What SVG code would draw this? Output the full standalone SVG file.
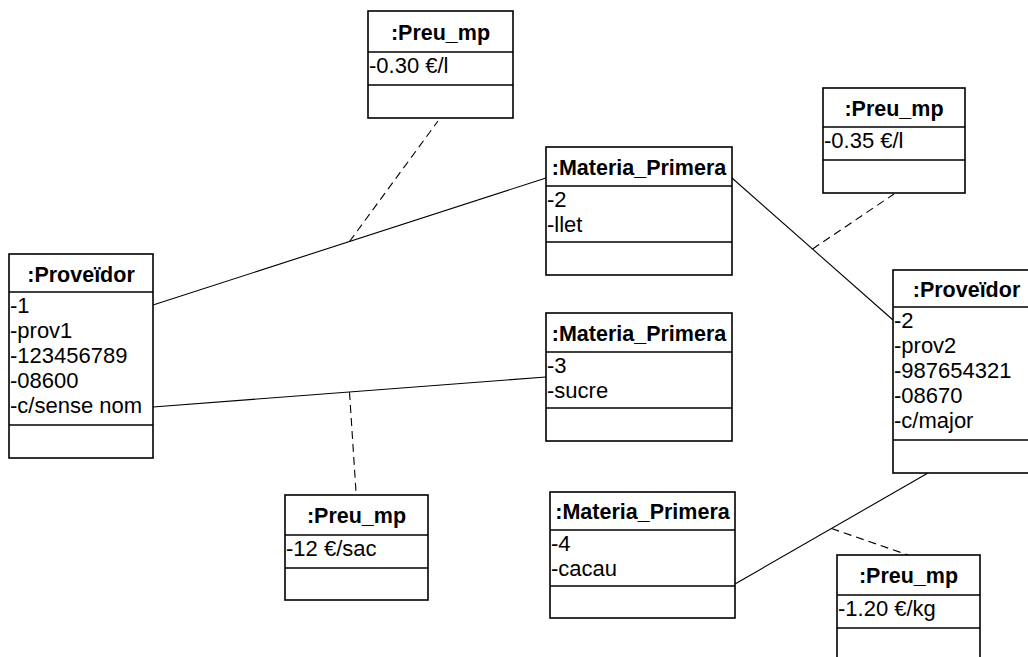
<svg xmlns="http://www.w3.org/2000/svg" width="1028" height="657" viewBox="0 0 1028 657">
<style>
.box{fill:#ffffff;stroke:#000000;stroke-width:1.6}
.div{stroke:#000000;stroke-width:1.6}
.hd{font-family:"Liberation Sans",Arial,sans-serif;font-size:21.5px;font-weight:bold;text-anchor:middle;fill:#000}
.at{font-family:"Liberation Sans",Arial,sans-serif;font-size:22px;fill:#000}
.ln{stroke:#000;stroke-width:1.1;fill:none}
.ds{stroke:#000;stroke-width:1.1;fill:none;stroke-dasharray:8,5}
</style>
<rect width="1028" height="657" fill="#ffffff"/>
<g id="connectors">
<line class="ln" x1="153" y1="305" x2="546" y2="178"/>
<line class="ds" x1="349.5" y1="241.5" x2="438" y2="121"/>
<line class="ln" x1="153" y1="407" x2="546" y2="377"/>
<line class="ds" x1="349.5" y1="392" x2="356" y2="492"/>
<line class="ln" x1="732" y1="178" x2="893" y2="320"/>
<line class="ds" x1="812.5" y1="249" x2="894" y2="194"/>
<line class="ln" x1="735" y1="584" x2="928" y2="473"/>
<line class="ds" x1="831.5" y1="528.5" x2="908" y2="555"/>
</g>
<g id="preu1">
<rect class="box" x="368" y="11" width="145" height="107"/>
<line class="div" x1="368" y1="52" x2="513" y2="52"/>
<line class="div" x1="368" y1="85" x2="513" y2="85"/>
<text class="hd" x="440.5" y="39.5">:Preu_mp</text>
<text class="at" x="369" y="73">-0.30 €/l</text>
</g>
<g id="prov1">
<rect class="box" x="9" y="254" width="144" height="204"/>
<line class="div" x1="9" y1="292" x2="153" y2="292"/>
<line class="div" x1="9" y1="425" x2="153" y2="425"/>
<text class="hd" x="81" y="282">:Proveïdor</text>
<text class="at" x="10" y="313">-1</text>
<text class="at" x="10" y="338">-prov1</text>
<text class="at" x="10" y="363">-123456789</text>
<text class="at" x="10" y="388">-08600</text>
<text class="at" x="10" y="413">-c/sense nom</text>
</g>
<g id="mat1">
<rect class="box" x="546" y="147" width="186" height="128"/>
<line class="div" x1="546" y1="186" x2="732" y2="186"/>
<line class="div" x1="546" y1="242" x2="732" y2="242"/>
<text class="hd" x="639" y="175">:Materia_Primera</text>
<text class="at" x="547" y="207">-2</text>
<text class="at" x="547" y="232">-llet</text>
</g>
<g id="mat2">
<rect class="box" x="546" y="313" width="186" height="128"/>
<line class="div" x1="546" y1="352" x2="732" y2="352"/>
<line class="div" x1="546" y1="408" x2="732" y2="408"/>
<text class="hd" x="639" y="341">:Materia_Primera</text>
<text class="at" x="547" y="373">-3</text>
<text class="at" x="547" y="398">-sucre</text>
</g>
<g id="preu2">
<rect class="box" x="823" y="88" width="142" height="105"/>
<line class="div" x1="823" y1="127" x2="965" y2="127"/>
<line class="div" x1="823" y1="160" x2="965" y2="160"/>
<text class="hd" x="894" y="116">:Preu_mp</text>
<text class="at" x="824" y="148">-0.35 €/l</text>
</g>
<g id="prov2">
<rect class="box" x="893" y="270" width="147" height="203"/>
<line class="div" x1="893" y1="307" x2="1040" y2="307"/>
<line class="div" x1="893" y1="440" x2="1040" y2="440"/>
<text class="hd" x="966.5" y="297">:Proveïdor</text>
<text class="at" x="894" y="328">-2</text>
<text class="at" x="894" y="353">-prov2</text>
<text class="at" x="894" y="378">-987654321</text>
<text class="at" x="894" y="403">-08670</text>
<text class="at" x="894" y="428">-c/major</text>
</g>
<g id="mat3">
<rect class="box" x="550" y="492" width="185" height="126"/>
<line class="div" x1="550" y1="530" x2="735" y2="530"/>
<line class="div" x1="550" y1="586" x2="735" y2="586"/>
<text class="hd" x="642.5" y="519">:Materia_Primera</text>
<text class="at" x="551" y="551">-4</text>
<text class="at" x="551" y="576">-cacau</text>
</g>
<g id="preu3">
<rect class="box" x="837" y="555" width="143" height="107"/>
<line class="div" x1="837" y1="595" x2="980" y2="595"/>
<line class="div" x1="837" y1="628" x2="980" y2="628"/>
<text class="hd" x="908.5" y="583">:Preu_mp</text>
<text class="at" x="838" y="616">-1.20 €/kg</text>
</g>
<g id="preu4">
<rect class="box" x="285" y="495" width="143" height="105"/>
<line class="div" x1="285" y1="535" x2="428" y2="535"/>
<line class="div" x1="285" y1="568" x2="428" y2="568"/>
<text class="hd" x="356.5" y="523">:Preu_mp</text>
<text class="at" x="286" y="556">-12 €/sac</text>
</g>
</svg>
